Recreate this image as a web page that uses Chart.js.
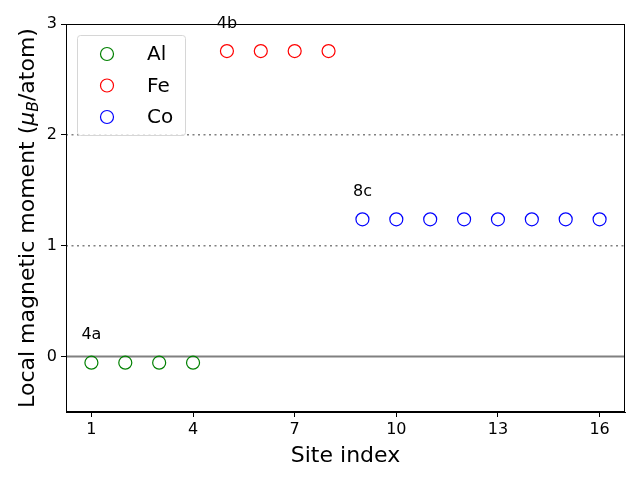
<!DOCTYPE html>
<html>
<head>
<meta charset="utf-8">
<script src="https://cdn.jsdelivr.net/npm/chart.js@4"></script>
<style>
  body { margin: 0; background: #fff; }
</style>
</head>
<body>
<canvas id="chart" width="640" height="480"></canvas>
<script>
// dados
const elements = ['Al', 'Fe', 'Co'];
const colors = ['#008000', '#ff0000', '#0000ff'];
const alSites = [1, 2, 3, 4];
const alMoments = [-0.055, -0.055, -0.055, -0.055];
const feSites = [5, 6, 7, 8];
const feMoments = [2.756, 2.756, 2.756, 2.756];
const coSites = [9, 10, 11, 12, 13, 14, 15, 16];
const coMoments = [1.238, 1.238, 1.238, 1.238, 1.238, 1.238, 1.238, 1.238];
const wyckoff = ['4a', '4b', '8c'];
const xTicks = [1, 4, 7, 10, 13, 16];
const yTicks = [0, 1, 2, 3];
const refLines = [0, 1, 2];

const FONT = 'DejaVu Sans';

function pts(xs, ys) {
  return xs.map((x, i) => ({ x: x, y: ys[i] }));
}

const groups = [
  { sites: alSites, moments: alMoments },
  { sites: feSites, moments: feMoments },
  { sites: coSites, moments: coMoments }
];

const datasets = groups.map((g, i) => ({
  label: elements[i],
  data: pts(g.sites, g.moments),
  pointStyle: 'circle',
  pointRadius: 6.5,
  pointHoverRadius: 6.5,
  pointBorderWidth: 1.2,
  borderColor: colors[i],
  backgroundColor: 'rgba(0,0,0,0)',
  showLine: false
}));

// linhas horizontais de referencia
const refLinesPlugin = {
  id: 'refLines',
  beforeDatasetsDraw(chart) {
    const { ctx, chartArea: a, scales: { y } } = chart;
    ctx.save();
    refLines.forEach(v => {
      const py = y.getPixelForValue(v);
      ctx.beginPath();
      if (v === 0) {
        ctx.setLineDash([]);
        ctx.lineWidth = 2;
      } else {
        ctx.setLineDash([2, 3.5]);
        ctx.lineWidth = 1.5;
      }
      ctx.strokeStyle = '#808080';
      ctx.moveTo(a.left, py);
      ctx.lineTo(a.right, py);
      ctx.stroke();
    });
    ctx.restore();
  }
};

// moldura, rotulos, legenda e titulo do eixo y
const extrasPlugin = {
  id: 'extras',
  afterDraw(chart) {
    const { ctx, chartArea: a, scales: { x, y } } = chart;
    ctx.save();

    // moldura
    ctx.strokeStyle = '#000';
    ctx.lineWidth = 1;
    ctx.strokeRect(a.left + 0.5, a.top + 0.5, a.right - a.left - 1, a.bottom - a.top - 1);

    // rotulos de Wyckoff
    ctx.fillStyle = '#000';
    ctx.font = '16px "' + FONT + '"';
    ctx.textAlign = 'center';
    ctx.textBaseline = 'bottom';
    groups.forEach((g, i) => {
      ctx.fillText(wyckoff[i], x.getPixelForValue(g.sites[0]), y.getPixelForValue(g.moments[0] + 0.175));
    });

    // legenda
    const lx = 77, ly = 35, lw = 108, lh = 100;
    ctx.beginPath();
    ctx.roundRect(lx + 0.5, ly + 0.5, lw, lh, 3);
    ctx.fillStyle = 'rgba(255,255,255,0.8)';
    ctx.fill();
    ctx.strokeStyle = '#d6d6d6';
    ctx.lineWidth = 1;
    ctx.stroke();
    ctx.font = '20px "' + FONT + '"';
    ctx.textAlign = 'left';
    ctx.textBaseline = 'middle';
    chart.data.datasets.forEach((ds, i) => {
      const cy = ly + 19 + i * 31.5;
      ctx.beginPath();
      ctx.arc(lx + 30, cy, 6.5, 0, Math.PI * 2);
      ctx.strokeStyle = ds.borderColor;
      ctx.lineWidth = 1.2;
      ctx.stroke();
      ctx.fillStyle = '#000';
      ctx.fillText(ds.label, lx + 70, cy + 1);
    });

    // titulo do eixo y com mu_B
    const parts = [
      { t: 'Local magnetic moment (', f: '22px "' + FONT + '"', dy: 0 },
      { t: 'μ', f: 'italic 22px "' + FONT + '"', dy: 0 },
      { t: 'B', f: 'italic 15.5px "' + FONT + '"', dy: 4 },
      { t: '/atom)', f: '22px "' + FONT + '"', dy: 0 }
    ];
    let total = 0;
    parts.forEach(p => { ctx.font = p.f; p.w = ctx.measureText(p.t).width; total += p.w; });
    ctx.translate(34, (a.top + a.bottom) / 2);
    ctx.rotate(-Math.PI / 2);
    ctx.textAlign = 'left';
    ctx.textBaseline = 'alphabetic';
    ctx.fillStyle = '#000';
    let cx = -total / 2;
    parts.forEach(p => {
      ctx.font = p.f;
      ctx.fillText(p.t, cx, p.dy);
      cx += p.w;
    });
    ctx.restore();
  }
};

new Chart(document.getElementById('chart'), {
  type: 'scatter',
  data: { datasets: datasets },
  options: {
    responsive: false,
    animation: false,
    devicePixelRatio: 1,
    layout: { padding: { top: 24, right: 15, left: 0, bottom: 0 } },
    plugins: {
      legend: { display: false },
      tooltip: { enabled: false }
    },
    scales: {
      x: {
        type: 'linear',
        min: 0.25,
        max: 16.75,
        afterBuildTicks: s => { s.ticks = xTicks.map(v => ({ value: v })); },
        afterFit: s => { s.height = 68; },
        grid: { drawOnChartArea: false, tickLength: 5, color: '#000', lineWidth: 1 },
        border: { color: '#000', width: 1 },
        ticks: { color: '#000', font: { family: FONT, size: 16 }, padding: 3, autoSkip: false, maxRotation: 0 },
        title: { display: true, text: 'Site index', color: '#000', font: { family: FONT, size: 22 }, padding: { top: 0, bottom: 11 } }
      },
      y: {
        type: 'linear',
        min: -0.5,
        max: 3,
        afterBuildTicks: s => { s.ticks = yTicks.map(v => ({ value: v })); },
        afterFit: s => { s.width = 66; },
        grid: { drawOnChartArea: false, tickLength: 5, color: '#000', lineWidth: 1 },
        border: { color: '#000', width: 1 },
        ticks: { color: '#000', font: { family: FONT, size: 16 }, padding: 4 }
      }
    }
  },
  plugins: [refLinesPlugin, extrasPlugin]
});
</script>
</body>
</html>
